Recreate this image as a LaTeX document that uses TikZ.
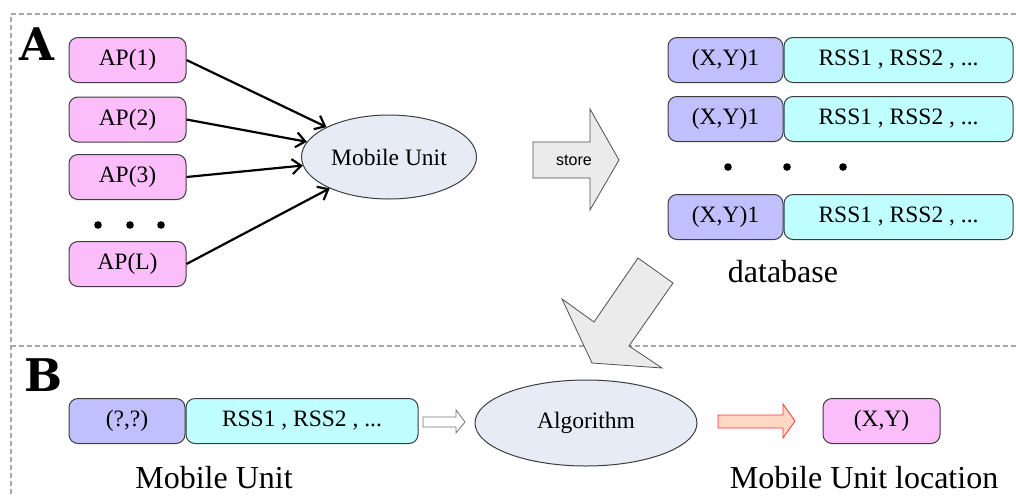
\documentclass[tikz,border=0pt]{standalone}
\usepackage{fontspec}
\setmainfont{Liberation Serif}
\setsansfont{Liberation Sans}
\newfontfamily\tagfont{DejaVu Serif}
\usetikzlibrary{positioning,shapes.geometric,arrows.meta}
\definecolor{appink}{HTML}{FBBEFB}
\definecolor{posblue}{HTML}{C0C0FF}
\definecolor{rsscyan}{HTML}{BFFFFF}
\definecolor{unitfill}{HTML}{E6EBF6}
\definecolor{boxline}{HTML}{3C3C3C}
\definecolor{sepgray}{HTML}{A8A8A8}
\definecolor{arrowfill}{HTML}{EBEBEB}
\definecolor{arrowline}{HTML}{505050}
\definecolor{outfill}{HTML}{FFD8C4}
\definecolor{outline}{HTML}{FF3030}
\tikzset{
  box/.style={draw=boxline, line width=1pt, rounded corners=9pt, minimum height=45pt,
    inner sep=0pt, font=\fontsize{23.5}{25}\selectfont},
  apbox/.style={box, fill=appink, minimum width=117pt},
  posbox/.style={box, fill=posblue, minimum width=115pt},
  rssbox/.style={box, fill=rsscyan, minimum width=229pt},
  unit/.style={ellipse, draw=boxline, line width=1pt, fill=unitfill, inner sep=0pt,
    font=\fontsize{23.5}{25}\selectfont},
  caption/.style={font=\fontsize{32}{34}\selectfont},
  tag/.style={font=\tagfont\bfseries\fontsize{45}{45}\selectfont},
  sep/.style={draw=sepgray, line width=1.2pt, dash pattern=on 5pt off 3pt},
  fatarrow/.style={draw=arrowline, fill=arrowfill, line width=0.8pt}
}
\begin{document}
\begin{tikzpicture}[x=1pt,y=-1pt,>={Straight Barb[length=9pt,width=15pt]}]
\useasboundingbox (0,0) rectangle (1016,496);
% section frames
\draw[sep] (1016,14) -- (11,14) -- (11,496);
\draw[sep] (11,346) -- (1016,346);
\node[tag] (tagA) at (37,44) {A};
\node[tag] (tagB) at (44,375) {B};

% A: access points -> mobile unit
\node[apbox] (ap1) at (127.5,60) {AP(1)};
\node[apbox] (ap2) at (127.5,119.5) {AP(2)};
\node[apbox] (ap3) at (127.5,177) {AP(3)};
\node[apbox] (apL) at (127.5,264) {AP(L)};
\foreach \x in {98,130,161} \fill (\x,225) circle (3.8pt);
\node[unit, minimum width=175pt, minimum height=84pt] (mu) at (389,157) {Mobile Unit};
\foreach \n in {ap1,ap2,ap3,apL}
  \draw[->, line width=2.2pt] (\n.east) -- (mu);

% store
\draw[fatarrow] (533,142) -- (590,142) -- (590,109) -- (619,160) -- (590,210)
  -- (590,178) -- (533,178) -- cycle;
\node[font=\sffamily\fontsize{16}{18}\selectfont] (store) at (574,160) {store};

% database
\node[posbox] (xy1) at (725.5,60) {(X,Y)1};
\node[rssbox, right=0pt of xy1] (rss1) {RSS1 , RSS2 , ...};
\node[posbox] (xy2) at (725.5,119) {(X,Y)1};
\node[rssbox, right=0pt of xy2] (rss2) {RSS1 , RSS2 , ...};
\node[posbox] (xy3) at (725.5,217) {(X,Y)1};
\node[rssbox, right=0pt of xy3] (rss3) {RSS1 , RSS2 , ...};
\foreach \x in {728,787,843} \fill (\x,167) circle (3.8pt);
\node[caption] (db) at (783,272) {database};

% lookup arrow
\draw[fatarrow] (638,258) -- (673,283) -- (629,346) -- (662,368) -- (592,363)
  -- (562,299) -- (594,322) -- cycle;

% B: on-line phase
\node[posbox, minimum width=116pt] (qq) at (127,421) {(?,?)};
\node[rssbox, minimum width=232pt, right=0pt of qq] (rssq) {RSS1 , RSS2 , ...};
\node[caption] (mulbl) at (214,478) {Mobile Unit};
\draw[fatarrow, fill=white, draw=arrowline!80] (423,417) -- (456,417) -- (456,410)
  -- (465,422) -- (456,433) -- (456,427) -- (423,427) -- cycle;
\node[unit, minimum width=222pt, minimum height=86pt] (algo) at (586,423) {Algorithm};
\draw[fatarrow, fill=outfill, draw=outline] (718,415) -- (783,415) -- (783,404)
  -- (795,421) -- (783,438) -- (783,428) -- (718,428) -- cycle;
\node[apbox] (xy) at (881.5,421) {(X,Y)};
\node[caption] (loclbl) at (864,478) {Mobile Unit location};
\end{tikzpicture}
\end{document}
